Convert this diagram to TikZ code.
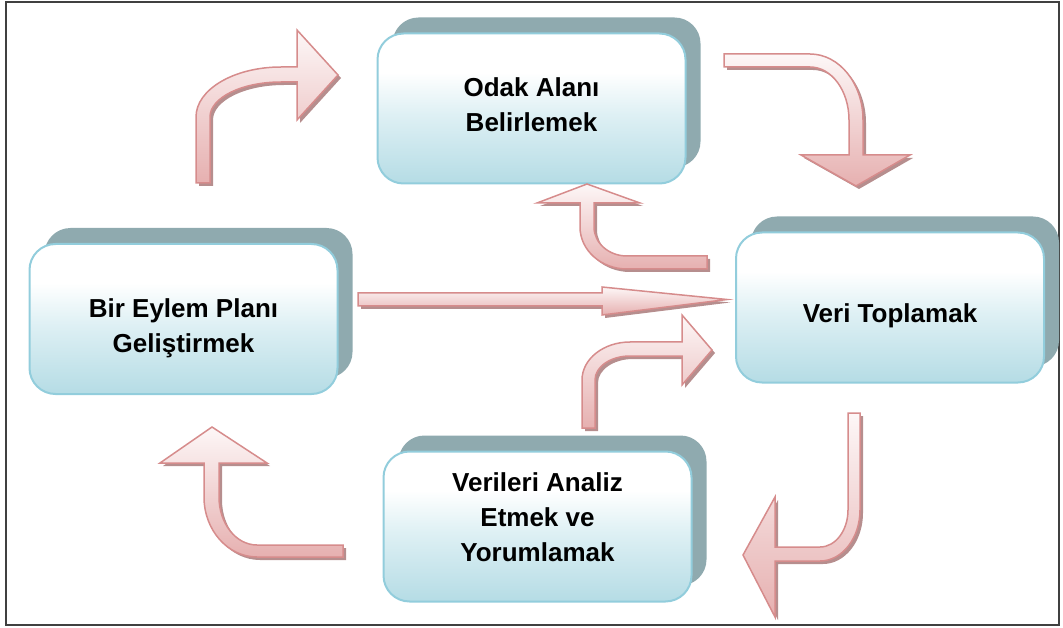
\documentclass[tikz,border=0pt]{standalone}
\usepackage{fontspec}
\setmainfont{Liberation Sans}
\usetikzlibrary{shadows}

% palette
\definecolor{boxedge}{RGB}{146,205,220}
\definecolor{boxblue}{RGB}{181,220,229}
\definecolor{boxmid}{RGB}{222,240,244}
\definecolor{boxback}{RGB}{143,170,175}
\definecolor{arrowedge}{RGB}{214,140,140}
\definecolor{arrowpink}{RGB}{230,176,176}
\definecolor{arrowtop}{RGB}{253,247,247}
\definecolor{arrowback}{RGB}{182,142,142}
\definecolor{framegray}{RGB}{64,64,64}

% white top fading into pale blue at the bottom of each stage box
\pgfdeclareverticalshading{boxshade}{100bp}{color(0bp)=(boxblue); color(25bp)=(boxblue); color(48bp)=(boxmid); color(62bp)=(white); color(100bp)=(white)}

\tikzset{
  stagebox/.style={rectangle, rounded corners=26pt, draw=boxedge, line width=2pt,
    shading=boxshade, minimum width=308pt, minimum height=150pt, inner sep=0pt,
    align=center, font=\fontsize{26}{35}\selectfont\bfseries,
    general shadow={fill=boxback, shadow xshift=15pt, shadow yshift=16pt}},
  arrowbody/.style={draw=arrowedge, line width=1.5pt, line join=miter,
    top color=arrowtop, bottom color=arrowpink},
  arrowshadow/.style={fill=arrowback, shift={(3,3)}}
}

% a block arrow: offset shadow first, then the shaded body with its outline
\newcommand{\blockarrow}[1]{\fill[arrowshadow] #1; \draw[arrowbody] #1;}
% struts that move a label down (extra height) or up (extra depth)
\newcommand{\padtop}[1]{\rule{0pt}{#1}}
\newcommand{\padbottom}[1]{\rule[-#1]{0pt}{#1}}

\begin{document}
\begin{tikzpicture}[x=1pt, y=-1pt]
\useasboundingbox (0,0) rectangle (1063,628);
\draw[framegray, line width=2pt] (6,2) rectangle (1059,625);

% stages of the cycle
\node[stagebox] (odak)   at (531.5,108.5) {Odak Alanı\\Belirlemek\padbottom{7pt}};
\node[stagebox] (veri)   at (890,307.5)   {\padtop{35pt}Veri Toplamak};
\node[stagebox] (plan)   at (183.5,319)   {\padtop{37pt}Bir Eylem Planı\\Geliştirmek};
\node[stagebox] (analiz) at (537.5,526.5) {Verileri Analiz\\Etmek ve\\Yorumlamak\padbottom{18pt}};

% plan -> odak : up, then right
\blockarrow{(196,183) -- (196,117) .. controls (196,89.4) and (234.1,67) .. (281,67)
  -- (297,67) -- (297,30) -- (338,75) -- (297,120) -- (297,82) -- (281,82)
  .. controls (241.8,82) and (210,97.7) .. (210,117) -- (210,183) -- cycle}

% odak -> veri : right, then down
\blockarrow{(724,54) -- (810,54) .. controls (839.3,54) and (863,83.5) .. (863,120)
  -- (863,155) -- (910,155) -- (856,186) -- (801,155) -- (849,155) -- (849,120)
  .. controls (849,90.7) and (831.5,67) .. (810,67) -- (724,67) -- cycle}

% veri -> odak : left, then up
\blockarrow{(707,256) -- (627,256) .. controls (608.8,256) and (594,243) .. (594,227)
  -- (594,203) -- (640,203) -- (587,184) -- (537,203) -- (580,203) -- (580,227)
  .. controls (580,250.2) and (601,269) .. (627,269) -- (707,269) -- cycle}

% plan -> veri : straight
\blockarrow{(358,293) -- (602,293) -- (602,287) -- (727,299.5) -- (602,315)
  -- (602,306) -- (358,306) -- cycle}

% analiz -> veri : up, then right
\blockarrow{(582,428) -- (582,380) .. controls (582,359) and (603.5,342) .. (630,342)
  -- (682,342) -- (682,315) -- (712,350) -- (682,385) -- (682,356) -- (630,356)
  .. controls (610.7,356) and (595,366.7) .. (595,380) -- (595,428) -- cycle}

% veri -> analiz : down, then left
\blockarrow{(848,413) -- (860,413) -- (860,510) .. controls (860,538.2) and (842.1,561) .. (820,561)
  -- (775,561) -- (775,617) -- (743,555) -- (775,497) -- (775,547) -- (820,547)
  .. controls (835.5,547) and (848,530.4) .. (848,510) -- cycle}

% analiz -> plan : left, then up
\blockarrow{(343,545) -- (257,545) .. controls (236,545) and (219,523.5) .. (219,497)
  -- (219,463) -- (267,463) -- (212,427) -- (160,463) -- (204,463) -- (204,497)
  .. controls (204,530.1) and (227.7,557) .. (257,557) -- (343,557) -- cycle}
\end{tikzpicture}
\end{document}
